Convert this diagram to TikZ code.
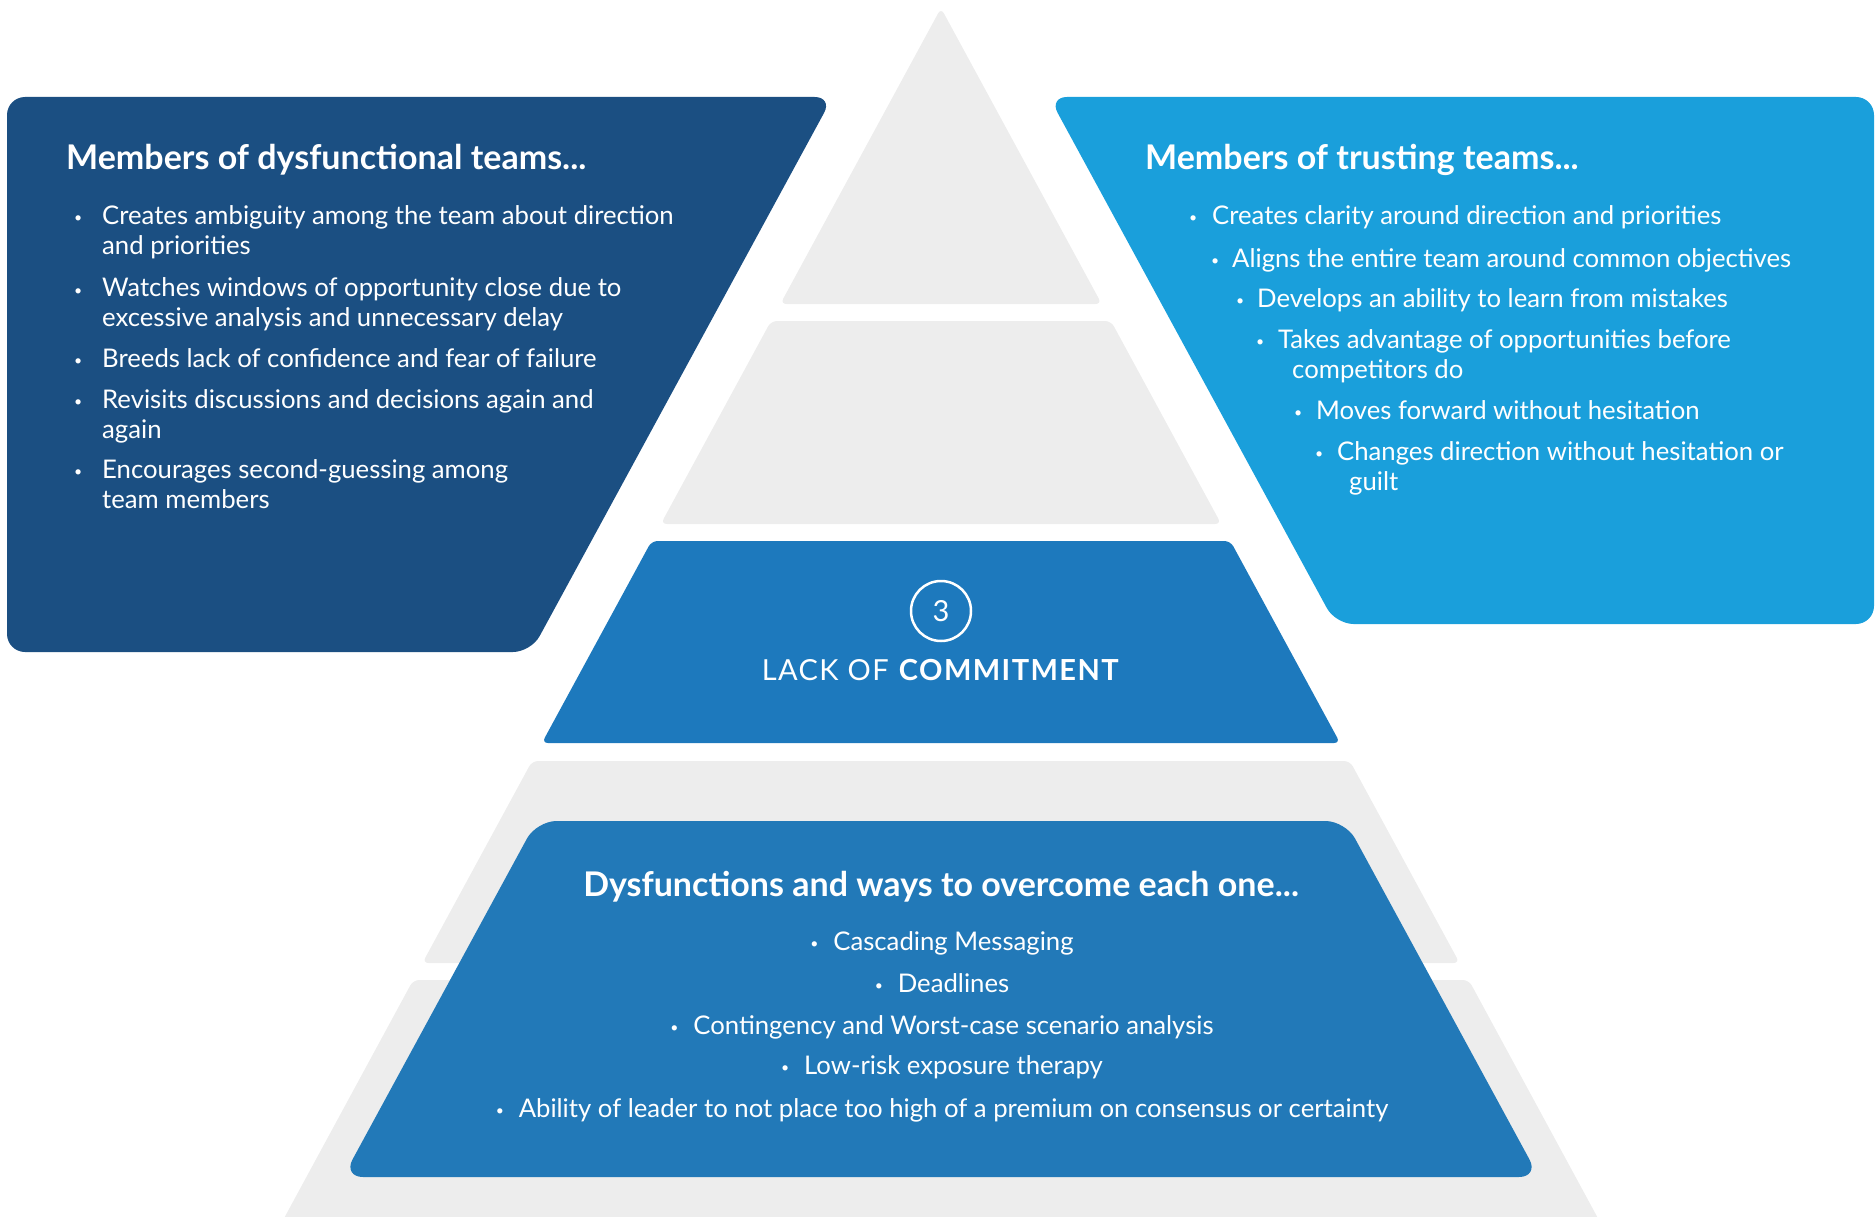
\documentclass[tikz,border=0pt]{standalone}
\usepackage{fontspec}
\setmainfont{Lato}
\usetikzlibrary{calc}
\definecolor{darkblue}{HTML}{1B4F82}
\definecolor{lightblue}{HTML}{1A9FDB}
\definecolor{midblue}{HTML}{1D79BD}
\definecolor{boxblue}{HTML}{2279B8}
\definecolor{tiergray}{HTML}{EDEDED}
\newcommand{\bul}[1][28pt]{\makebox[#1][l]{\raisebox{1.5pt}{\fontsize{14}{14}\selectfont\textbullet}}}
\begin{document}
\begin{tikzpicture}[x=1pt,y=-1pt,tier node/.style={fill=tiergray,rounded corners=6pt},
  side text/.style={text=white,inner sep=0pt,align=left,font=\fontsize{25.7}{30}\selectfont},
  head text/.style={text=white,inner sep=0pt,font=\fontsize{34}{40}\selectfont\bfseries}]
\useasboundingbox (0,0) rectangle (1875,1217);
% pyramid tiers
\fill[tier node] (941,8) -- (1101.7,304) -- (780.3,304) -- cycle;
\fill[tier node] (771,321) -- (1111,321) -- (1221.2,524) -- (660.8,524) -- cycle;
\fill[tier node,fill=midblue] (651.6,541) -- (1230.4,541) -- (1340.1,743) -- (541.9,743) -- cycle;
\fill[tier node] (532.1,761) -- (1349.9,761) -- (1459.6,963) -- (422.4,963) -- cycle;
\fill[tier node] (413.2,980) -- (1468.8,980) -- (1600,1222) -- (282,1222) -- cycle;
% side boxes
\fill[darkblue,rounded corners=18pt] (7,97) -- (832.7,97) -- (531,652) -- (7,652) -- cycle;
\fill[lightblue,rounded corners=18pt] (1049,97) -- (1874,97) -- (1874,624) -- (1335.5,624) -- cycle;
% bottom box
\fill[boxblue,rounded corners=20pt] (536.5,821) -- (1345.5,821) -- (1539,1177) -- (343,1177) -- cycle;

\begin{scope}
\node[head text,anchor=west] (dtitle) at (66,160) {Members of dysfunctional teams...};
\node[side text,anchor=west] (d1) at (74,232) {\bul Creates ambiguity among the team about direction\\\hspace*{28pt}and priorities};
\node[side text,anchor=west] (d2) at (74,304.5) {\bul Watches windows of opportunity close due to\\\hspace*{28pt}excessive analysis and unnecessary delay};
\node[side text,anchor=west] (d3) at (74,358) {\bul Breeds lack of confidence and fear of failure};
\node[side text,anchor=west] (d4) at (74,416) {\bul Revisits discussions and decisions again and\\\hspace*{28pt}again};
\node[side text,anchor=west] (d5) at (74,484) {\bul Encourages second-guessing among\\\hspace*{28pt}team members};
\end{scope}

\begin{scope}
\node[head text,anchor=west] (ttitle) at (1145,160) {Members of trusting teams...};
\node[side text,anchor=west] (t1) at (1189,217) {\bul[23pt]Creates clarity around direction and priorities};
\node[side text,anchor=west] (t2) at (1211,260) {\bul[21pt]Aligns the entire team around common objectives};
\node[side text,anchor=west] (t3) at (1236,300) {\bul[21pt]Develops an ability to learn from mistakes};
\node[side text,anchor=west] (t4) at (1256,356) {\bul[22pt]Takes advantage of opportunities before\\\hspace*{36pt}competitors do};
\node[side text,anchor=west] (t5) at (1294,410) {\bul[22pt]Moves forward without hesitation};
\node[side text,anchor=west] (t6) at (1315,468) {\bul[22pt]Changes direction without hesitation or\\\hspace*{34pt}guilt};
\end{scope}

\node[circle,draw=white,line width=2.5pt,minimum size=60pt,inner sep=0pt,text=white,font=\fontsize{29}{29}\selectfont] (num) at (941,611) {3};
\node[text=white,inner sep=0pt,font=\fontsize{29}{29}\selectfont\addfontfeature{LetterSpace=5}] (lack) at (941,670) {LACK OF \textbf{COMMITMENT}};

\begin{scope}
\node[head text] (btitle) at (941,887) {Dysfunctions and ways to overcome each one...};
\node[side text] (b1) at (942,943) {\bul[23pt]Cascading Messaging};
\node[side text] (b2) at (942,983) {\bul[23pt]Deadlines};
\node[side text] (b3) at (942,1027) {\bul[23pt]Contingency and Worst-case scenario analysis};
\node[side text] (b4) at (942,1067) {\bul[23pt]Low-risk exposure therapy};
\node[side text] (b5) at (942,1110) {\bul[23pt]Ability of leader to not place too high of a premium on consensus or certainty};
\end{scope}
\end{tikzpicture}
\end{document}
